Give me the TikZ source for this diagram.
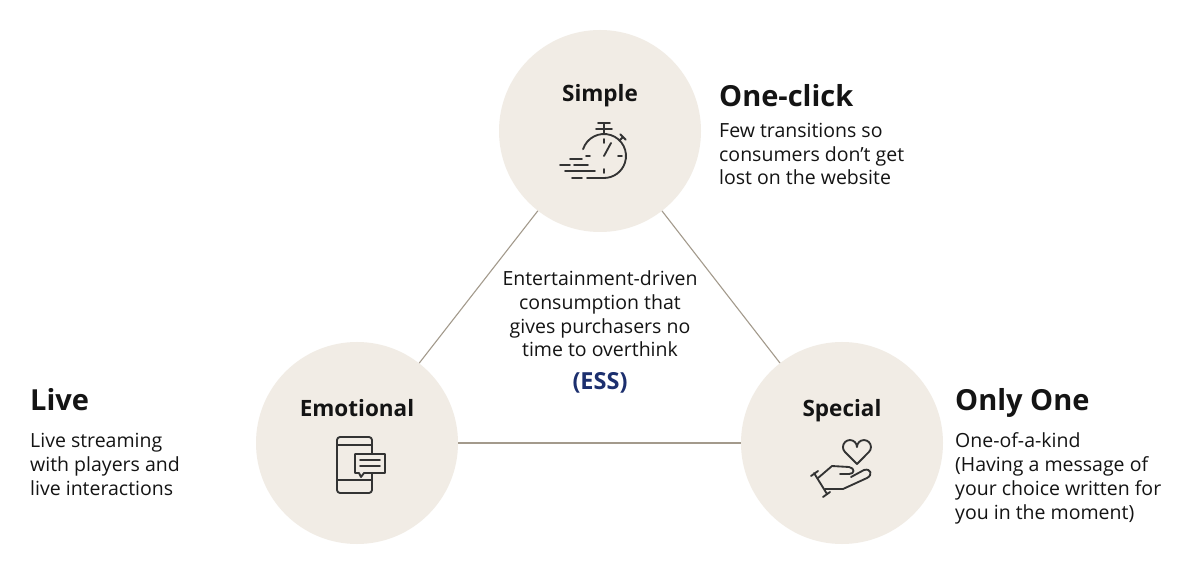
\documentclass[tikz,border=0pt]{standalone}
\usepackage{fontspec}
\setmainfont{Open Sans}
\definecolor{circfill}{HTML}{F1ECE5}
\definecolor{conn}{HTML}{A39A8C}
\definecolor{txt}{HTML}{141414}
\definecolor{ico}{HTML}{333333}
\definecolor{essblue}{HTML}{1C2F6E}
\begin{document}
\begin{tikzpicture}[x=1pt,y=-1pt,
  bubble/.style={circle,fill=circfill,draw=none,minimum size=202pt,inner sep=0pt},
  conline/.style={draw=conn,line width=1.1pt},
  title/.style={font=\fontsize{29}{34}\selectfont\bfseries,text=txt,inner sep=0pt,anchor=base west},
  ctitle/.style={font=\fontsize{22.5}{27}\selectfont\bfseries,text=txt,inner sep=0pt,anchor=base},
  body/.style={font=\fontsize{19.5}{23.8}\selectfont,text=txt,inner sep=0pt,align=left,anchor=base west},
  cbody/.style={font=\fontsize{19.5}{23.8}\selectfont,text=txt,inner sep=0pt,align=center,anchor=base},
  icon/.style={draw=ico,line width=1.85pt,line cap=round,line join=round}]
\useasboundingbox (0,0) rectangle (1200,577);
\fill[white] (0,0) rectangle (1200,577);
% circles
\node[bubble] (simple) at (600,131) {};
\node[bubble] (emo) at (357,443) {};
\node[bubble] (spec) at (842,443) {};
% connectors
\draw[conline] (simple) -- (emo);
\draw[conline] (simple) -- (spec);
\draw[conline] (emo) -- (spec);
% circle labels
\node[ctitle] (simplelbl) at (600,102) {Simple};
\node[ctitle] (emolbl) at (357,417) {Emotional};
\node[ctitle] (speclbl) at (842,417) {Special};
% side texts (multi-line nodes: base = last line)
\node[title] (oneclick) at (719,107) {One-click};
\node[body] (oneclickbody) at (719,185) {Few transitions so\\consumers don’t get\\lost on the website};
\node[title] (live) at (30,410) {Live};
\node[body] (livebody) at (30,495) {Live streaming\\with players and\\live interactions};
\node[title] (onlyone) at (955,410) {Only One};
\node[body] (onlyonebody) at (955,519) {One-of-a-kind\\(Having a message of\\your choice written for\\you in the moment)};
% centre text
\node[cbody] (centre) at (600,357) {Entertainment-driven\\consumption that\\gives purchasers no\\time to overthink};
\node[font=\fontsize{23.5}{28}\selectfont\bfseries,text=essblue,inner sep=0pt,anchor=base] (ess) at (600,390) {(ESS)};
% stopwatch icon
\draw[icon] (604,156) ++(198:22) arc[start angle=198,end angle=450,radius=22] -- ++(-17,0);
\draw[icon] (598,123) -- (610,123) (604,123) -- (604,134) (596,129) -- (612,129);
\draw[icon] (619.6,140.4) -- (623,137) (620.2,134.2) -- (625.8,139.8);
\draw[icon] (604,139) -- (604,143) (618,156) -- (622,156) (604,169) -- (604,173) (586,156) -- (590,156);
\draw[icon] (604,156) -- (611,143);
\draw[icon] (570,159) -- (582,159) (560,165) -- (570,165) (574,165) -- (588,165) (565,171) -- (595,171) (572,178) -- (582,178);
% phone icon
\draw[icon,rounded corners=3pt] (337,437) rectangle (372,493);
\draw[icon] (337,445) -- (372,445) (337,480) -- (372,480);
\draw[icon,fill=circfill] (355,454) -- (385,454) -- (385,473) -- (364,473) -- (361,477) -- (359,473) -- (355,473) -- cycle;
\draw[icon] (360,460) -- (380,460) (360,466) -- (380,466);
% heart and hand icon
\draw[icon] (845,452) arc[start angle=135,end angle=360,radius=7] arc[start angle=180,end angle=405,radius=7] -- (857,464) -- cycle;
\draw[icon] (811,476) -- (818,471) (814,473) -- (827,494) (823,497) -- (830,492);
\draw[icon] (818,478) -- (832,466) -- (849,467) .. controls (855,468) and (855,474) .. (849,474) -- (840,474);
\draw[icon] (825,489) -- (843,489) -- (867,478) .. controls (873,475) and (871,468) .. (864,470) -- (851,477);
\end{tikzpicture}
\end{document}
